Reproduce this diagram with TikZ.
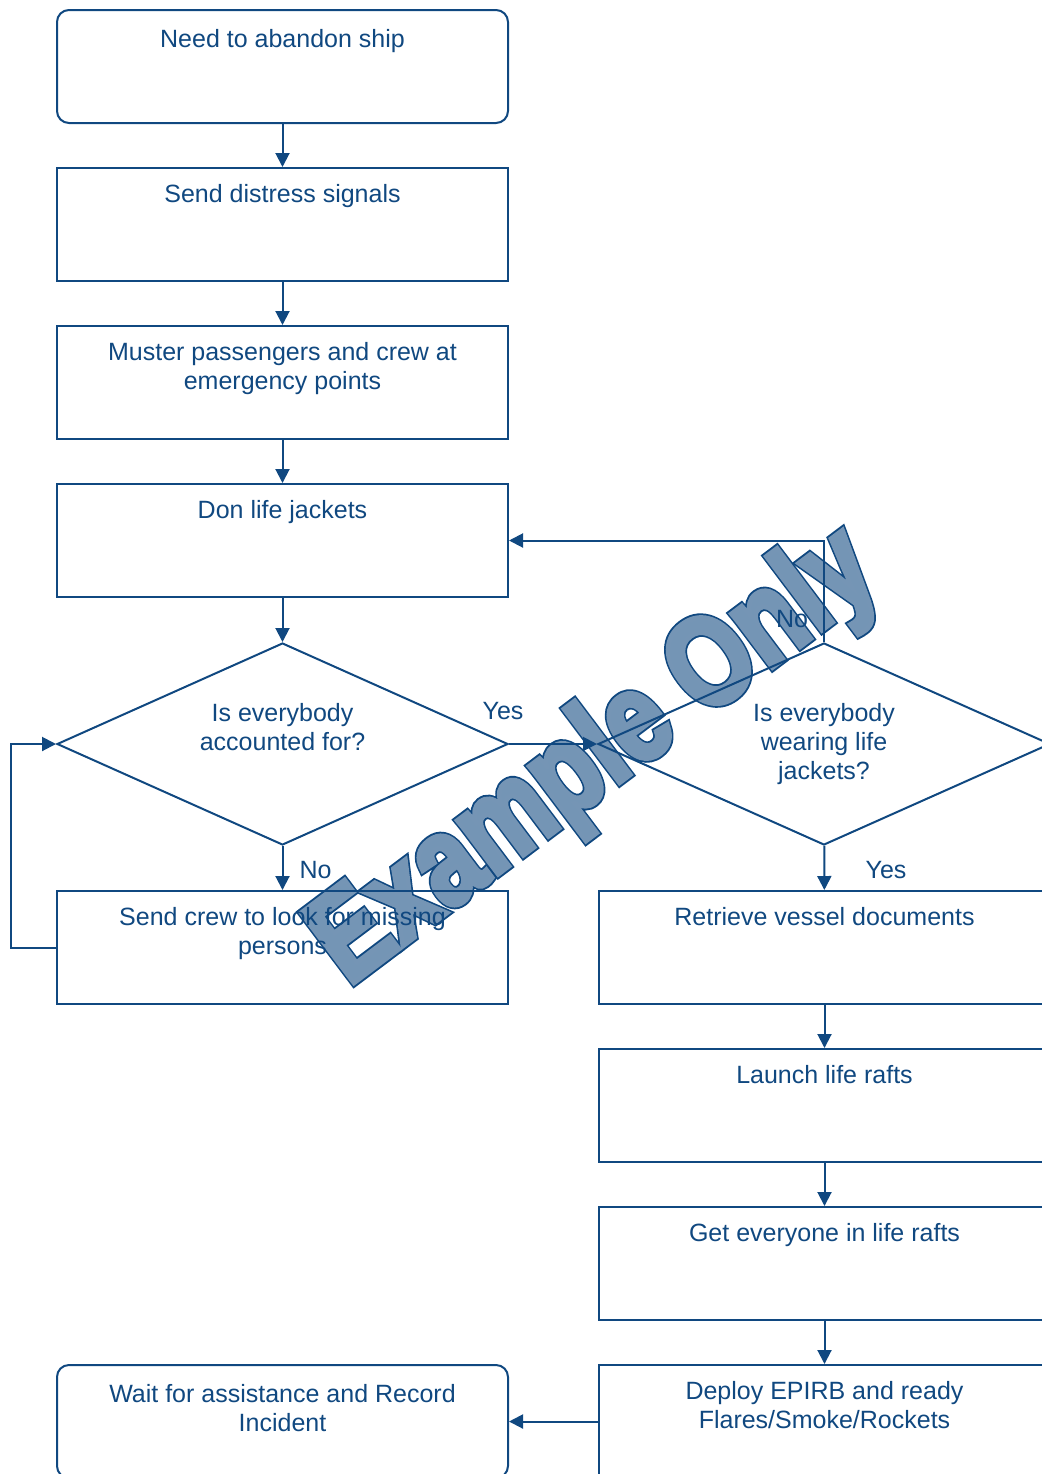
\documentclass[tikz,border=0pt]{standalone}
\usepackage{fontspec}
\setmainfont{Liberation Sans}
\usetikzlibrary{arrows.meta,shapes.geometric,positioning,calc}

\definecolor{flow}{RGB}{16,72,128}
\colorlet{stampfill}{flow!58!white}

% text drawn filled and stroked: #1 stroke colour (rgb), #2 stroke width, #3 text
\newcommand\strokedtext[3]{%
  \special{pdf:literal 2 Tr #2 w 0 j #1 RG}#3\special{pdf:literal 0 Tr}}

\tikzset{
  every node/.style={text=flow, font=\fontsize{18.75pt}{21.75pt}\selectfont},
  box/.style={draw=flow, line width=1.5pt, minimum width=338.25pt,
              minimum height=84.75pt, inner sep=0pt},
  rbox/.style={box, rounded corners=9pt},
  decision/.style={draw=flow, line width=1.5pt, diamond, inner sep=0pt,
              minimum width=338.25pt, minimum height=151.5pt},
  txt/.style={inner sep=0pt, align=center},
  lbl/.style={inner sep=0pt},
  stampstyle/.style={rotate=37, anchor=base west, inner sep=0pt,
              font=\fontsize{76pt}{76pt}\bfseries\selectfont},
  flowarrow/.style={draw=flow, line width=1.5pt,
              -{Triangle[length=10.5pt,width=10.5pt]}},
}

\begin{document}
\begin{tikzpicture}[x=0.75pt,y=-0.75pt]
\useasboundingbox (0,0) rectangle (1042,1474);
\clip (0,0) rectangle (1042,1474);

% watermark stamp, behind the chart: dark rim, lighter body
\node[stampstyle, text=flow] (stamp-rim) at (348,987)
  {\scalebox{1}[1.25]{\strokedtext{0.063 0.282 0.502}{5.5}{Example Only}}};
\node[stampstyle, text=stampfill] (stamp) at (348,987)
  {\scalebox{1}[1.25]{\strokedtext{0.457 0.584 0.711}{3.2}{Example Only}}};

% left column
\node[rbox] (start)   at (282.5,66.5)  {};
\node[box]  (signal)  at (282.5,224.5) {};
\node[box]  (muster)  at (282.5,382.5) {};
\node[box]  (jackets) at (282.5,540.5) {};
\node[decision] (check1) at (282.5,744) {};
\node[box]  (search)  at (282.5,947.5) {};
\node[rbox] (wait)    at (282.5,1421.5) {};

% right column
\node[decision, minimum width=339pt] (check2) at (824,744) {};
\node[box]  (docs)    at (824.5,947.5)  {};
\node[box]  (rafts)   at (824.5,1105.5) {};
\node[box]  (board)   at (824.5,1263.5) {};
\node[box]  (epirb)   at (824.5,1421.5) {};

% box texts
\node[txt, below=15pt of start.north]      (start-t)   {Need to abandon ship};
\node[txt, below=12.75pt of signal.north]  (signal-t)  {Send distress signals};
\node[txt, below=12.75pt of muster.north]  (muster-t)  {Muster passengers and crew at\\emergency points};
\node[txt, below=12.75pt of jackets.north] (jackets-t) {Don life jackets};
\node[txt, below=45.75pt of check1.north]  (check1-t)  {Is everybody\\accounted for?};
\node[txt, below=12.75pt of search.north]  (search-t)  {Send crew to look for missing\\persons};
\node[txt, below=15pt of wait.north]       (wait-t)    {Wait for assistance and Record\\Incident};
\node[txt, below=45.75pt of check2.north]  (check2-t)  {Is everybody\\wearing life\\jackets?};
\node[txt, below=12.75pt of docs.north]    (docs-t)    {Retrieve vessel documents};
\node[txt, below=12.75pt of rafts.north]   (rafts-t)   {Launch life rafts};
\node[txt, below=12.75pt of board.north]   (board-t)   {Get everyone in life rafts};
\node[txt, below=12.75pt of epirb.north]   (epirb-t)   {Deploy EPIRB and ready\\Flares/Smoke/Rockets};

% connectors
\draw[flowarrow] (start) -- (signal);
\draw[flowarrow] (signal) -- (muster);
\draw[flowarrow] (muster) -- (jackets);
\draw[flowarrow] (jackets) -- (check1);
\draw[flowarrow] (check1) -- (search);
\draw[flowarrow] (check1) -- (check2);
\draw[flowarrow] (search.west) -- ++(-45,0) |- (check1.west);
\draw[flowarrow] (check2.north) |- (jackets.east);
\draw[flowarrow] (check2) -- (docs);
\draw[flowarrow] (docs) -- (rafts);
\draw[flowarrow] (rafts) -- (board);
\draw[flowarrow] (board) -- (epirb);
\draw[flowarrow] (epirb) -- (wait);

% branch labels
\node[lbl] (yes1) at ($(check1.east)+(-6,-33)$) {Yes};
\node[lbl] (no1)  at ($(check1.south)+(33,24)$) {No};
\node[lbl] (no2)  at ($(check2.north)+(-32,-23)$) {No};
\node[lbl] (yes2) at ($(check2.south)+(62,24)$) {Yes};
\end{tikzpicture}
\end{document}
